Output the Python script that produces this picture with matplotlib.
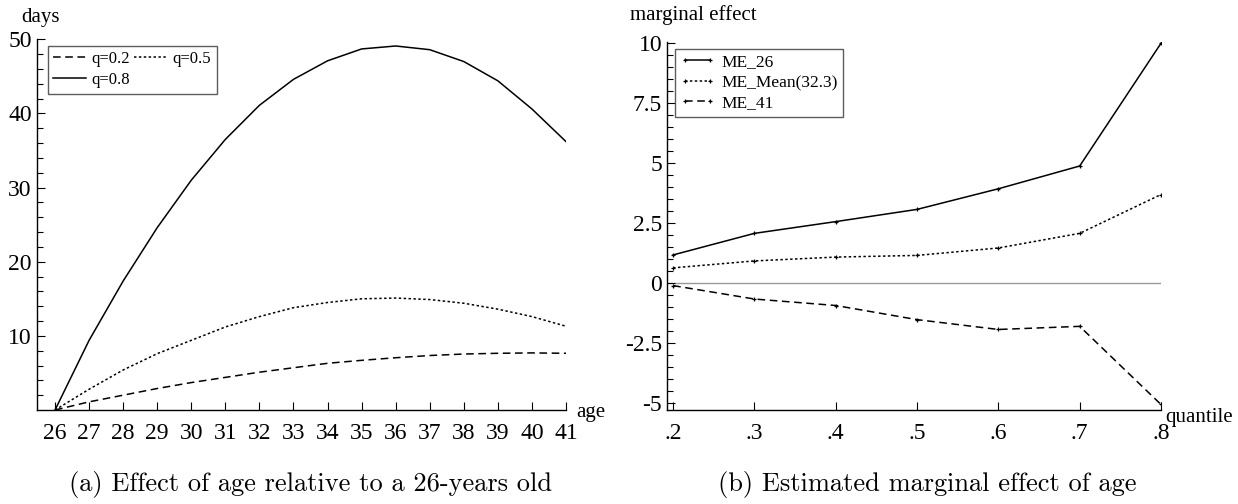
import matplotlib
matplotlib.use("Agg")
import matplotlib.pyplot as plt
from matplotlib.ticker import MultipleLocator, FixedLocator

plt.rcParams["font.family"] = ["Liberation Serif", "DejaVu Serif"]
plt.rcParams["axes.unicode_minus"] = False

# panel (a): effect of age relative to a 26-years old
ages = list(range(26, 42))
q02 = [0, 1.1, 2.0, 2.9, 3.7, 4.4, 5.1, 5.7, 6.3, 6.7, 7.05, 7.35, 7.55, 7.65, 7.7, 7.65]
q05 = [0, 2.8, 5.4, 7.6, 9.4, 11.2, 12.6, 13.8, 14.5, 15.0, 15.1, 14.9, 14.4, 13.6, 12.6, 11.3]
q08 = [0, 9.4, 17.4, 24.6, 31.0, 36.5, 41.1, 44.6, 47.1, 48.7, 49.1, 48.6, 47.0, 44.4, 40.6, 36.2]

# panel (b): estimated marginal effect of age by quantile
quantiles = [0.2, 0.3, 0.4, 0.5, 0.6, 0.7, 0.8]
quantile_labels = [".2", ".3", ".4", ".5", ".6", ".7", ".8"]
me_26 = [1.17, 2.07, 2.56, 3.07, 3.93, 4.88, 10.0]
me_mean = [0.63, 0.92, 1.08, 1.15, 1.46, 2.07, 3.69]
me_41 = [-0.11, -0.67, -0.94, -1.53, -1.94, -1.81, -5.07]
me_ticks = [-5, -2.5, 0, 2.5, 5, 7.5, 10]
me_tick_labels = ["-5", "-2.5", "0", "2.5", "5", "7.5", "10"]

DASHED = (0, (5, 3))
DOTTED = (0, (1.6, 1.6))

fig = plt.figure(figsize=(12.38, 5.04), dpi=100)
ax1 = fig.add_axes([0.0296, 0.1865, 0.4276, 0.7355])
ax2 = fig.add_axes([0.5388, 0.1865, 0.3990, 0.7300])

for ax in (ax1, ax2):
    for side in ("top", "right"):
        ax.spines[side].set_visible(False)
    ax.spines["left"].set_linewidth(1.0)
    ax.spines["bottom"].set_linewidth(1.0)
    ax.tick_params(which="both", direction="in", labelsize=17, width=0.8)
    ax.tick_params(which="major", length=6)
    ax.tick_params(which="minor", length=4)

# ---- panel (a)
l02, = ax1.plot(ages, q02, color="black", lw=1.1, linestyle=DASHED, label="q=0.2")
l05, = ax1.plot(ages, q05, color="black", lw=1.1, linestyle=DOTTED, label="q=0.5")
l08, = ax1.plot(ages, q08, color="black", lw=1.1, label="q=0.8")
ax1.set_xlim(25.46, 41)
ax1.set_ylim(0, 50)
ax1.set_xticks(ages)
ax1.set_yticks([10, 20, 30, 40, 50])
ax1.yaxis.set_minor_locator(FixedLocator([v for v in range(0, 51, 2) if v % 10]))
ax1.tick_params(axis="x", pad=9)
ax1.text(0.008, 1.06, "days", transform=ax1.transAxes, fontsize=15,
         ha="center", va="center")
ax1.text(1.02, 0.0, "age", transform=ax1.transAxes, fontsize=15,
         ha="left", va="center_baseline")
leg1 = ax1.legend([l02, l08, l05], ["q=0.2", "q=0.8", "q=0.5"], ncol=2,
                  loc="upper left", bbox_to_anchor=(0.021, 0.982),
                  borderaxespad=0, fontsize=12, fancybox=False,
                  handlelength=2.0, handletextpad=0.3, columnspacing=0.25,
                  labelspacing=0.3, borderpad=0.32)
leg1.get_frame().set_edgecolor("#333333")
leg1.get_frame().set_linewidth(1.0)

# ---- panel (b)
ax2.axhline(0, color="#999999", lw=1.0, zorder=1)
m26, = ax2.plot(quantiles, me_26, color="black", lw=1.1, marker="+", ms=3,
                mew=0.9, label="ME_26")
mmean, = ax2.plot(quantiles, me_mean, color="black", lw=1.1, linestyle=DOTTED,
                  marker="+", ms=3, mew=0.9, label="ME_Mean(32.3)")
m41, = ax2.plot(quantiles, me_41, color="black", lw=1.1, linestyle=DASHED,
                marker="+", ms=3, mew=0.9, label="ME_41")
ax2.set_xlim(0.1925, 0.8)
ax2.set_ylim(-5.3, 10.05)
ax2.set_xticks(quantiles)
ax2.set_xticklabels(quantile_labels)
ax2.set_yticks(me_ticks)
ax2.set_yticklabels(me_tick_labels)
ax2.yaxis.set_minor_locator(MultipleLocator(0.5))
ax2.tick_params(axis="x", pad=9)
ax2.text(-0.075, 1.073, "marginal effect", transform=ax2.transAxes, fontsize=15,
         ha="left", va="center")
ax2.text(1.008, -0.02, "quantile", transform=ax2.transAxes, fontsize=15,
         ha="left", va="center")
leg2 = ax2.legend(loc="upper left", bbox_to_anchor=(0.016, 0.981),
                  borderaxespad=0, fontsize=12.5, fancybox=False, numpoints=2,
                  handlelength=2.0, handletextpad=0.4, labelspacing=0.25,
                  borderpad=0.3)
leg2.get_frame().set_edgecolor("#333333")
leg2.get_frame().set_linewidth(1.0)

# captions
fig.text(311 / 1238, 1 - 484 / 504, "(a) Effect of age relative to a 26-years old",
         family="cmr10", fontsize=19, ha="center", va="center")
fig.text(927 / 1238, 1 - 484 / 504, "(b) Estimated marginal effect of age",
         family="cmr10", fontsize=19, ha="center", va="center")

fig.savefig("out.png", dpi=100)
